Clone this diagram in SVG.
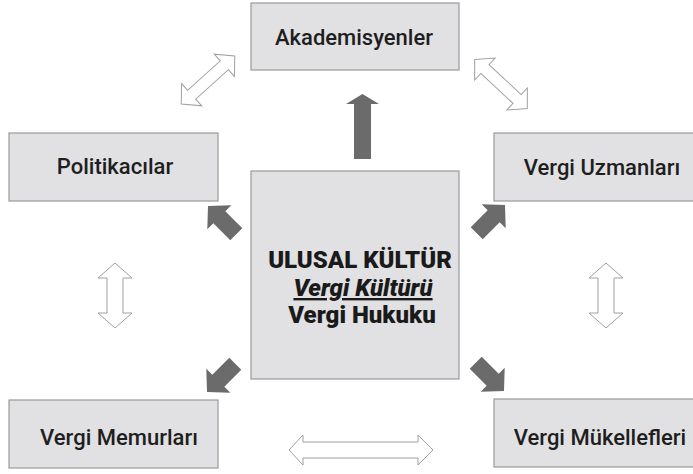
<svg xmlns="http://www.w3.org/2000/svg" width="693" height="474" viewBox="0 0 693 474">
<defs>
<style>
.box{fill:#e1e1e3;stroke:#9a9a9a;stroke-width:1.2}
.lbl{font-family:Roboto,"Liberation Sans",sans-serif;font-size:22px;font-weight:500;fill:#1e1e1e;text-anchor:middle}
.ctr{font-family:Roboto,"Liberation Sans",sans-serif;font-size:24px;font-weight:900;fill:#1a1a1a;text-anchor:middle}
.dark{fill:#6b6b6b}
.hollow{fill:#ffffff;stroke:#a0a0a0;stroke-width:1}
</style>
<polygon id="darkArrow" points="0,0 -16,-17 -16,-8.5 -40,-8.5 -40,8.5 -16,8.5 -16,17"/>
</defs>
<rect width="693" height="474" fill="#ffffff"/>
<g id="connectors">
<polygon class="dark" points="362.5,94 379,104 371,104 371,159 354,159 354,104 346,104"/>
<use href="#darkArrow" class="dark" transform="translate(208,206) rotate(-135)"/>
<use href="#darkArrow" class="dark" transform="translate(505,205) rotate(-45)"/>
<use href="#darkArrow" class="dark" transform="translate(207,392) rotate(135)"/>
<use href="#darkArrow" class="dark" transform="translate(504,391) rotate(45)"/>
<polygon class="hollow" points="115,263 132,278 123,278 123,313 132,313 115,328 98,313 107,313 107,278 98,278"/>
<polygon class="hollow" points="606,263 623,278 614,278 614,313 623,313 606,328 589,313 598,313 598,278 589,278"/>
<polygon class="hollow" points="289,450 303,435 303,442 418,442 418,435 433,450 418,465 418,458 303,458 303,465"/>
<polygon class="hollow" transform="translate(208,80) rotate(-42)" points="-36,0 -22,-15 -22,-6 22,-6 22,-15 36,0 22,15 22,6 -22,6 -22,15"/>
<polygon class="hollow" transform="translate(501,84) rotate(43)" points="-36,0 -22,-15 -22,-6 22,-6 22,-15 36,0 22,15 22,6 -22,6 -22,15"/>
</g>
<g id="akademisyenler">
<rect class="box" x="251" y="3" width="208" height="67"/>
<text class="lbl" x="354" y="45">Akademisyenler</text>
</g>
<g id="politikacilar">
<rect class="box" x="9" y="133" width="209" height="68"/>
<text class="lbl" x="115" y="174">Politikacılar</text>
</g>
<g id="vergi-uzmanlari">
<rect class="box" x="494" y="133" width="209" height="68"/>
<text class="lbl" x="602" y="175">Vergi Uzmanları</text>
</g>
<g id="ulusal-kultur">
<rect class="box" x="251" y="171" width="208" height="208"/>
<text class="ctr" x="360" y="268">ULUSAL KÜLTÜR</text>
<text class="ctr" x="363" y="296" font-style="italic" text-decoration="underline">Vergi Kültürü</text>
<text class="ctr" x="362" y="323">Vergi Hukuku</text>
</g>
<g id="vergi-memurlari">
<rect class="box" x="9" y="400" width="209" height="68"/>
<text class="lbl" x="119" y="445">Vergi Memurları</text>
</g>
<g id="vergi-mukellefleri">
<rect class="box" x="494" y="399" width="209" height="68"/>
<text class="lbl" x="600" y="445">Vergi Mükellefleri</text>
</g>
</svg>
